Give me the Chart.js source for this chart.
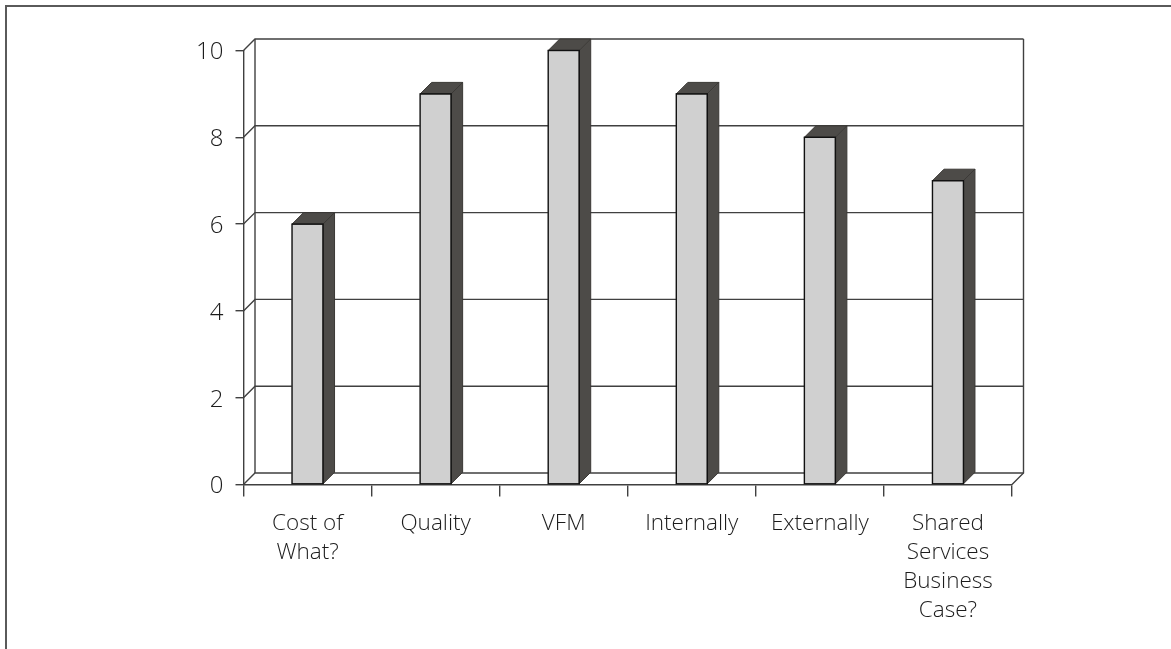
<!DOCTYPE html>
<html>
<head>
<meta charset="utf-8">
<script src="https://cdn.jsdelivr.net/npm/chart.js@4"></script>
<style>
  html, body { margin: 0; background: #fff; }
  #wrap { position: relative; width: 1171px; height: 649px; overflow: hidden; }
  #frame { position: absolute; left: 5px; top: 5px; width: 1200px; height: 700px; border: 2px solid #5a5a5a; box-sizing: border-box; }
  canvas { position: absolute; left: 0; top: 0; }
</style>
</head>
<body>
<div id="wrap">
  <div id="frame"></div>
  <canvas id="chart" width="1171" height="649"></canvas>
</div>
<script>
const categories = [["Cost of", "What?"], "Quality", "VFM", "Internally", "Externally", ["Shared", "Services", "Business", "Case?"]];
const scores = [6, 9, 10, 9, 8, 7];
const yTicks = [0, 2, 4, 6, 8, 10];

const DEPTH_X = 11.5;
const DEPTH_Y = 11.5;
const LINE = "#404040";
const DARK_FACE = "#4d4b48";

function strokePath(ctx, pts, close) {
  ctx.beginPath();
  pts.forEach((p, i) => i ? ctx.lineTo(p[0], p[1]) : ctx.moveTo(p[0], p[1]));
  if (close) ctx.closePath();
}

// Back wall, floor and the slanted joins that give the plot its depth.
const wallPlugin = {
  id: "wall",
  beforeDatasetsDraw(chart) {
    const { ctx, chartArea: a, scales: { y } } = chart;
    ctx.save();
    ctx.strokeStyle = LINE;
    ctx.lineWidth = 1.4;
    yTicks.forEach(v => {
      const py = y.getPixelForValue(v);
      strokePath(ctx, [[a.left, py], [a.left + DEPTH_X, py - DEPTH_Y], [a.right + DEPTH_X, py - DEPTH_Y]]);
      ctx.stroke();
    });
    const top = y.getPixelForValue(10) - DEPTH_Y;
    const bottom = y.getPixelForValue(0) - DEPTH_Y;
    strokePath(ctx, [[a.left + DEPTH_X, top], [a.left + DEPTH_X, bottom]]);
    ctx.stroke();
    strokePath(ctx, [[a.right + DEPTH_X, top], [a.right + DEPTH_X, bottom], [a.right, bottom + DEPTH_Y]]);
    ctx.stroke();
    ctx.restore();
  },
  // Top and side faces of each column, taken from the bar elements.
  afterDatasetsDraw(chart) {
    const { ctx } = chart;
    ctx.save();
    ctx.fillStyle = DARK_FACE;
    ctx.strokeStyle = "#3a3835";
    ctx.lineWidth = 1;
    chart.getDatasetMeta(0).data.forEach(bar => {
      const p = bar.getProps(["x", "y", "base", "width"], true);
      const l = p.x - p.width / 2, r = p.x + p.width / 2;
      strokePath(ctx, [[l, p.y], [l + DEPTH_X, p.y - DEPTH_Y], [r + DEPTH_X, p.y - DEPTH_Y], [r, p.y]], true);
      ctx.fill(); ctx.stroke();
      strokePath(ctx, [[r, p.y], [r + DEPTH_X, p.y - DEPTH_Y], [r + DEPTH_X, p.base - DEPTH_Y], [r, p.base]], true);
      ctx.fill(); ctx.stroke();
      // Front-face outline on top of the side faces.
      ctx.save();
      ctx.strokeStyle = "#111";
      ctx.lineWidth = 1.4;
      ctx.strokeRect(l, p.y, p.width, p.base - p.y);
      ctx.restore();
    });
    ctx.restore();
  }
};

const categoryFont = { family: "'Open Sans', sans-serif", size: 22.5, weight: "300", lineHeight: 1.29 };
const valueFont = { family: "'Open Sans', sans-serif", size: 24, weight: "300", lineHeight: 1.2 };

new Chart(document.getElementById("chart"), {
  type: "bar",
  data: {
    labels: categories,
    datasets: [{
      data: scores,
      backgroundColor: "#d0d0d0",
      borderWidth: 0,
      barThickness: 31
    }]
  },
  options: {
    responsive: false,
    animation: false,
    layout: { padding: { left: 0, right: 159, top: 50.5, bottom: 0 } },
    plugins: { legend: { display: false }, tooltip: { enabled: false } },
    scales: {
      x: {
        grid: { drawOnChartArea: false, drawTicks: true, tickLength: 12, tickWidth: 1.4, lineWidth: 1.4, color: LINE, offset: true },
        border: { color: LINE, width: 1.4 },
        ticks: { font: categoryFont, color: "#1c1c1c", maxRotation: 0, autoSkip: false, padding: 13 },
        afterFit(s) { s.height = 164.5; }
      },
      y: {
        min: 0,
        max: 10,
        afterBuildTicks(s) { s.ticks = yTicks.map(value => ({ value })); },
        grid: { drawOnChartArea: false, drawTicks: true, tickLength: 8, tickWidth: 1.4, lineWidth: 1.4, color: LINE },
        border: { color: LINE, width: 1.4 },
        ticks: { font: valueFont, color: "#1c1c1c", padding: 12, labelOffset: 2 },
        afterFit(s) { s.width = 243.5; }
      }
    }
  },
  plugins: [wallPlugin]
});
</script>
</body>
</html>
